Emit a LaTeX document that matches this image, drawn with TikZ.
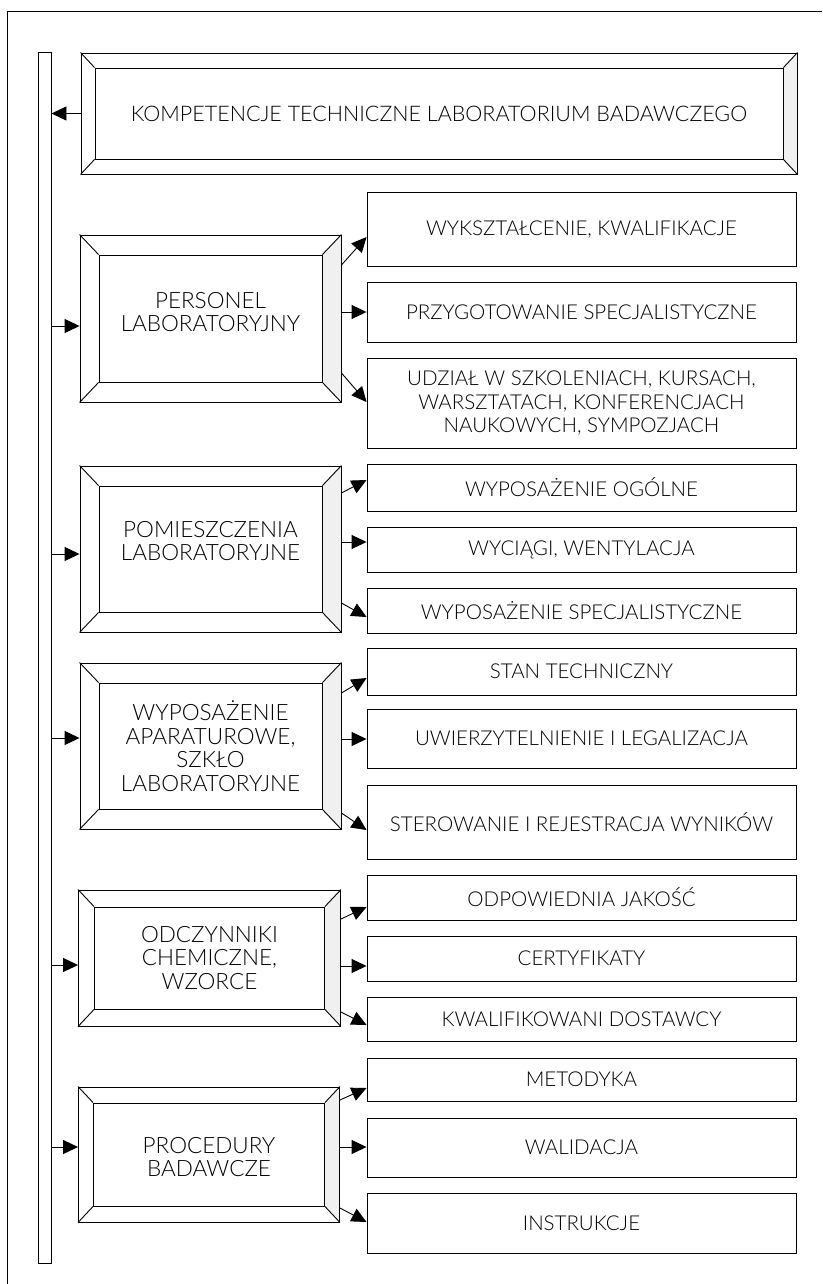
\documentclass[tikz,border=0pt]{standalone}
\usepackage{fontspec}
\setmainfont{Lato}[UprightFont=* Light]
\usetikzlibrary{arrows.meta,backgrounds}
\tikzset{
  ln/.style={line width=0.9pt},
  outerbox/.style={draw, ln, rectangle, inner sep=0pt},
  innerbox/.style={draw, ln, rectangle, inner sep=0pt},
  rbox/.style={draw, ln, rectangle, inner sep=0pt, minimum width=429pt, align=center,
    font=\fontsize{20.5}{23.5}\selectfont},
  mtext/.style={align=center, inner sep=0pt, font=\fontsize{22.5}{23.5}\selectfont},
  ttext/.style={inner sep=0pt, font=\fontsize{21.5}{26}\selectfont},
  arr/.style={ln, -{Triangle[length=15pt,width=14pt]}},
  bevelshade/.style={fill=gray!12},
}
\newcommand\bevelbox[7]{%
  \node[outerbox, minimum width=#4pt, minimum height=#5pt] (#1) at (#2,#3) {};
  \node[innerbox, minimum width={#4pt-2*#6pt}, minimum height={#5pt-2*#7pt}] (#1in) at (#2,#3) {};
  \begin{scope}[on background layer]
    \fill[bevelshade] (#1.north east) -- (#1in.north east) -- (#1in.south east) -- (#1.south east) -- cycle;
  \end{scope}
  \draw[ln] (#1.north west) -- (#1in.north west)
            (#1.north east) -- (#1in.north east)
            (#1.south west) -- (#1in.south west)
            (#1.south east) -- (#1in.south east);
}
\begin{document}
\begin{tikzpicture}[x=1pt,y=-1pt]
\useasboundingbox (0,0) rectangle (822,1284);
% outer frame (open at right and bottom)
\draw[ln] (7.5,1284) -- (7.5,11.5) -- (822,11.5);
% vertical bar
\node[draw, ln, inner sep=0pt, minimum width=13pt, minimum height=1211pt] (bar) at (44.5,657.5) {};

% top box
\bevelbox{k}{439}{113.5}{716}{121}{14}{15}
\node[ttext] (ktx) at (439,113.5) {KOMPETENCJE TECHNICZNE LABORATORIUM BADAWCZEGO};
\draw[arr] (k.west) -- (bar.east |- k.west);

% main boxes
\bevelbox{p}{210.5}{318.5}{261}{167}{19}{20}
\node[mtext] (ptx) at (210.5,312) {PERSONEL\\LABORATORYJNY};
\bevelbox{m}{210.5}{549}{261}{166}{19}{20}
\node[mtext] (mtx) at (210.5,541) {POMIESZCZENIA\\LABORATORYJNE};
\bevelbox{w}{210.5}{746}{261}{166}{19}{20}
\node[mtext] (wtx) at (210.5,746) {WYPOSAŻENIE\\APARATUROWE,\\SZKŁO\\LABORATORYJNE};
\bevelbox{o}{209.5}{958}{262}{136}{16}{17}
\node[mtext] (otx) at (209.5,958) {ODCZYNNIKI\\CHEMICZNE,\\WZORCE};
\bevelbox{r}{209}{1154.5}{261}{135}{15}{16}
\node[mtext] (rtx) at (209,1157) {PROCEDURY\\BADAWCZE};

% right boxes
\node[rbox, minimum height=74pt] (p1) at (581.5,229) {WYKSZTAŁCENIE, KWALIFIKACJE};
\node[rbox, minimum height=60pt] (p2) at (581.5,312) {PRZYGOTOWANIE SPECJALISTYCZNE};
\node[rbox, minimum height=90pt] (p3) at (581.5,403) {UDZIAŁ W SZKOLENIACH, KURSACH,\\WARSZTATACH, KONFERENCJACH\\NAUKOWYCH, SYMPOZJACH};
\node[rbox, minimum height=47pt] (m1) at (581.5,487.5) {WYPOSAŻENIE OGÓLNE};
\node[rbox, minimum height=45pt] (m2) at (581.5,549.5) {WYCIĄGI, WENTYLACJA};
\node[rbox, minimum height=45pt] (m3) at (581.5,610.5) {WYPOSAŻENIE SPECJALISTYCZNE};
\node[rbox, minimum height=47pt] (w1) at (581.5,671.5) {STAN TECHNICZNY};
\node[rbox, minimum height=59pt] (w2) at (581.5,738.5) {UWIERZYTELNIENIE I LEGALIZACJA};
\node[rbox, minimum height=74pt] (w3) at (581.5,822) {STEROWANIE I REJESTRACJA WYNIKÓW};
\node[rbox, minimum height=45pt] (o1) at (581.5,897.5) {ODPOWIEDNIA JAKOŚĆ};
\node[rbox, minimum height=45pt] (o2) at (581.5,958.5) {CERTYFIKATY};
\node[rbox, minimum height=44pt] (o3) at (581.5,1019) {KWALIFIKOWANI DOSTAWCY};
\node[rbox, minimum height=43pt] (r1) at (581.5,1079.5) {METODYKA};
\node[rbox, minimum height=59pt] (r2) at (581.5,1147.5) {WALIDACJA};
\node[rbox, minimum height=60pt] (r3) at (581.5,1223) {INSTRUKCJE};

% arrows from bar to main boxes
\draw[arr] (bar.east |- 0,326) -- (p.west |- 0,326);
\draw[arr] (bar.east |- 0,554) -- (m.west |- 0,554);
\draw[arr] (bar.east |- 0,738) -- (w.west |- 0,738);
\draw[arr] (bar.east |- 0,965) -- (o.west |- 0,965);
\draw[arr] (bar.east |- 0,1147) -- (r.west |- 0,1147);

% arrows to right boxes
\draw[arr] (p.east |- 0,265) -- (p1.west |- 0,237);
\draw[arr] (p.east |- 0,312) -- (p2.west |- 0,312);
\draw[arr] (p.east |- 0,373) -- (p3.west |- 0,402);

\draw[arr] (m.east |- 0,493) -- (m1.west |- 0,480);
\draw[arr] (m.east |- 0,542) -- (m2.west |- 0,542);
\draw[arr] (m.east |- 0,603) -- (m3.west |- 0,617);

\draw[arr] (w.east |- 0,693) -- (w1.west |- 0,678);
\draw[arr] (w.east |- 0,739) -- (w2.west |- 0,739);
\draw[arr] (w.east |- 0,813) -- (w3.west |- 0,830);

\draw[arr] (o.east |- 0,919) -- (o1.west |- 0,907);
\draw[arr] (o.east |- 0,966) -- (o2.west |- 0,966);
\draw[arr] (o.east |- 0,1012) -- (o3.west |- 0,1025);

\draw[arr] (r.east |- 0,1100) -- (r1.west |- 0,1088);
\draw[arr] (r.east |- 0,1147) -- (r2.west |- 0,1147);
\draw[arr] (r.east |- 0,1208) -- (r3.west |- 0,1222);
\end{tikzpicture}
\end{document}
